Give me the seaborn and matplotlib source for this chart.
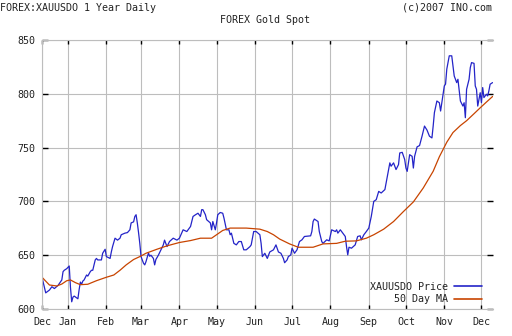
import matplotlib
matplotlib.use("Agg")
import matplotlib.pyplot as plt
import matplotlib.dates as mdates
from matplotlib.lines import Line2D
import pandas as pd
import seaborn as sns

start_date = "2006-12-11"
end_date = "2007-12-10 08:00"

price_day = [0, 3, 6, 8, 10, 13, 16, 17, 18, 20, 22, 23, 24, 25, 26, 29, 30, 31, 32, 33,
             34, 36, 37, 39, 40, 41, 43, 44, 45, 48, 49, 51, 52, 55, 56, 57, 59, 61, 63, 64,
             67, 69, 71, 72, 74, 75, 76, 77, 78, 79, 80, 82, 83, 84, 86, 87, 88, 90, 91, 92,
             94, 98, 99, 101, 103, 106, 109, 111, 114, 117, 120, 122, 124, 126, 128, 129, 130, 132, 133, 136,
             137, 138, 140, 141, 142, 144, 146, 147, 149, 151, 152, 153, 155, 157, 159, 161, 163, 165, 168, 169,
             171, 173, 176, 177, 178, 180, 182, 184, 187, 189, 191, 193, 195, 196, 198, 199, 201, 202, 204, 206,
             208, 210, 212, 217, 218, 219, 220, 223, 224, 226, 227, 230, 232, 234, 237, 238, 239, 241, 243, 245,
             246, 247, 248, 250, 253, 255, 257, 258, 260, 262, 264, 266, 268, 270, 272, 274, 277, 279, 281, 282,
             284, 286, 288, 289, 291, 293, 294, 295, 297, 299, 300, 301, 303, 305, 307, 309, 311, 313, 315, 316,
             317, 319, 321, 322, 323, 325, 326, 327, 329, 331, 332, 333, 335, 336, 338, 340, 341, 342, 343, 345,
             346, 347, 349, 350, 351, 352, 354, 355, 356, 357, 359, 360, 361, 362, 364]
price_value = [629.5, 615.0, 617.6, 620.7, 619.0, 622.0, 627.0, 634.7, 636.0, 637.5, 640.0, 620.0, 606.7, 611.0, 612.0, 609.5, 618.0, 625.0, 623.0, 626.0,
               627.0, 631.6, 630.6, 634.7, 636.0, 636.0, 645.6, 647.0, 645.6, 645.6, 651.8, 655.5, 648.7, 647.0, 653.0, 658.0, 665.8, 664.0, 665.8, 669.0,
               670.5, 671.0, 673.6, 680.0, 681.0, 686.0, 687.6, 680.0, 671.0, 661.0, 648.7, 642.5, 641.0, 644.0, 652.0, 649.0, 650.0, 647.0, 641.0, 646.0,
               650.0, 659.6, 664.0, 658.0, 662.7, 665.8, 664.0, 665.8, 673.6, 672.0, 676.7, 686.0, 687.6, 689.0, 686.0, 692.3, 692.3, 687.6, 683.0, 680.0,
               673.6, 681.3, 673.6, 680.0, 687.6, 689.7, 689.0, 684.5, 673.6, 673.6, 669.0, 670.5, 661.0, 659.6, 662.7, 662.7, 655.0, 655.0, 658.0, 659.6,
               672.0, 672.0, 669.0, 661.0, 648.7, 651.8, 647.0, 653.0, 655.0, 659.6, 653.0, 651.8, 647.0, 643.0, 645.6, 648.7, 650.3, 656.5, 651.8, 655.0,
               662.7, 664.3, 667.4, 668.0, 672.0, 681.3, 683.6, 681.3, 672.0, 662.7, 661.0, 664.3, 663.3, 673.6, 672.0, 673.6, 670.5, 673.6, 670.5, 667.4,
               658.0, 650.3, 657.4, 656.5, 659.6, 667.4, 668.0, 664.3, 669.0, 672.0, 675.2, 686.0, 700.0, 701.6, 709.3, 707.8, 711.0, 723.3, 735.8, 732.7,
               735.8, 729.6, 734.2, 745.0, 745.6, 738.9, 731.0, 727.9, 743.4, 741.9, 731.0, 741.9, 750.7, 751.9, 760.6, 770.0, 766.3, 760.6, 759.0, 770.0,
               782.5, 793.3, 791.7, 784.0, 791.7, 807.3, 809.0, 822.9, 835.3, 835.3, 826.0, 816.6, 810.4, 813.5, 793.3, 788.6, 791.7, 777.8, 804.2, 813.5,
               824.4, 829.0, 828.3, 807.3, 804.2, 788.6, 801.0, 791.7, 805.8, 796.5, 799.6, 798.0, 802.7, 808.9, 810.4]

ma_day = [0, 6, 12, 16, 20, 23, 27, 31, 37, 44, 52, 58, 63, 68, 74, 79, 84, 93, 101, 111,
          120, 128, 137, 141, 146, 152, 165, 176, 182, 187, 192, 200, 207, 219, 227, 238, 245, 254, 262, 268,
          276, 284, 292, 300, 308, 316, 321, 327, 332, 338, 343, 349, 354, 359, 364]
ma_value = [629.5, 622.3, 621.4, 623.2, 626.3, 627.0, 624.5, 622.6, 623.0, 626.3, 629.5, 631.6, 636.0, 641.0, 646.0, 648.7, 651.8, 655.6, 658.7, 661.8,
            663.6, 665.8, 665.8, 669.0, 673.0, 675.2, 675.2, 674.2, 672.0, 669.0, 665.0, 660.5, 657.4, 657.4, 660.5, 661.0, 663.0, 663.3, 665.8, 669.0,
            674.2, 681.3, 690.6, 699.5, 712.5, 728.0, 741.5, 755.0, 764.0, 770.5, 775.0, 781.5, 787.0, 792.3, 797.5]

series_names = ["XAUUSDO Price", "50 Day MA"]
series_colors = ["#2424c8", "#c84400"]
month_tick_dates = ["2006-12-11", "2007-01-01", "2007-02-01", "2007-03-01", "2007-04-01", "2007-05-01",
                    "2007-06-01", "2007-07-01", "2007-08-01", "2007-09-01", "2007-10-01", "2007-11-01", "2007-12-01"]
month_labels = ["Dec", "Jan", "Feb", "Mar", "Apr", "May", "Jun", "Jul", "Aug", "Sep", "Oct", "Nov", "Dec"]
y_ticks = [600, 650, 700, 750, 800, 850]

title_left = "FOREX:XAUUSDO 1 Year Daily"
title_right = "(c)2007 INO.com"
title_center = "FOREX Gold Spot"

sns.set_style("white")
plt.rcParams["font.family"] = ["DejaVu Sans Mono"]
FS = 7.2

start = pd.Timestamp(start_date)
price_df = pd.DataFrame({"date": start + pd.to_timedelta(price_day, unit="D"), "value": price_value})
ma_df = pd.DataFrame({"date": start + pd.to_timedelta(ma_day, unit="D"), "value": ma_value})

fig = plt.figure(figsize=(5.12, 3.36), dpi=100)
fig.patch.set_facecolor("white")
ax = fig.add_axes([42 / 512, 27 / 336, 451 / 512, 269 / 336])

sns.lineplot(data=price_df, x="date", y="value", color=series_colors[0], linewidth=0.9, ax=ax)
sns.lineplot(data=ma_df, x="date", y="value", color=series_colors[1], linewidth=0.9, ax=ax)

ax.set_xlim(pd.Timestamp(start_date), pd.Timestamp(end_date))
ax.set_ylim(y_ticks[0], y_ticks[-1])
ax.set_xticks([pd.Timestamp(d) for d in month_tick_dates])
ax.set_xticklabels(month_labels)
ax.set_yticks(y_ticks)
ax.set_yticklabels([str(v) for v in y_ticks])
ax.set_xlabel("")
ax.set_ylabel("")

grid_color = "#bdbdbd"
ax.grid(True, color=grid_color, linewidth=0.8)
for side in ["left", "bottom", "top"]:
    ax.spines[side].set_visible(True)
    ax.spines[side].set_color(grid_color)
    ax.spines[side].set_linewidth(0.8)
ax.spines["right"].set_visible(False)

ax.tick_params(axis="y", direction="in", length=4, width=1, color="black",
               left=True, right=True, labelleft=True, labelright=False,
               labelsize=FS, pad=5, labelcolor="#222222")
ax.tick_params(axis="x", direction="in", length=3, width=1, color="black",
               bottom=True, top=True, labelbottom=True, labeltop=False,
               labelsize=FS, pad=6, labelcolor="#222222")

handles = [Line2D([], [], color=c, linewidth=1.2) for c in series_colors]
leg = ax.legend(handles, series_names, loc="lower right", frameon=False, markerfirst=False,
                handlelength=2.8, handletextpad=0.6, labelspacing=0.25, fontsize=FS,
                borderpad=0, borderaxespad=0,
                bbox_to_anchor=((482 - 42) / 451, 5 / 269))
for t in leg.get_texts():
    t.set_color("#222222")

fig.text(0, 1 - 8 / 336, title_left, ha="left", va="center", fontsize=FS, color="#222222")
fig.text(492 / 512, 1 - 8 / 336, title_right, ha="right", va="center", fontsize=FS, color="#222222")
fig.text(265 / 512, 1 - 20 / 336, title_center, ha="center", va="center", fontsize=FS, color="#222222")

fig.savefig("out.png", dpi=100, facecolor="white")
